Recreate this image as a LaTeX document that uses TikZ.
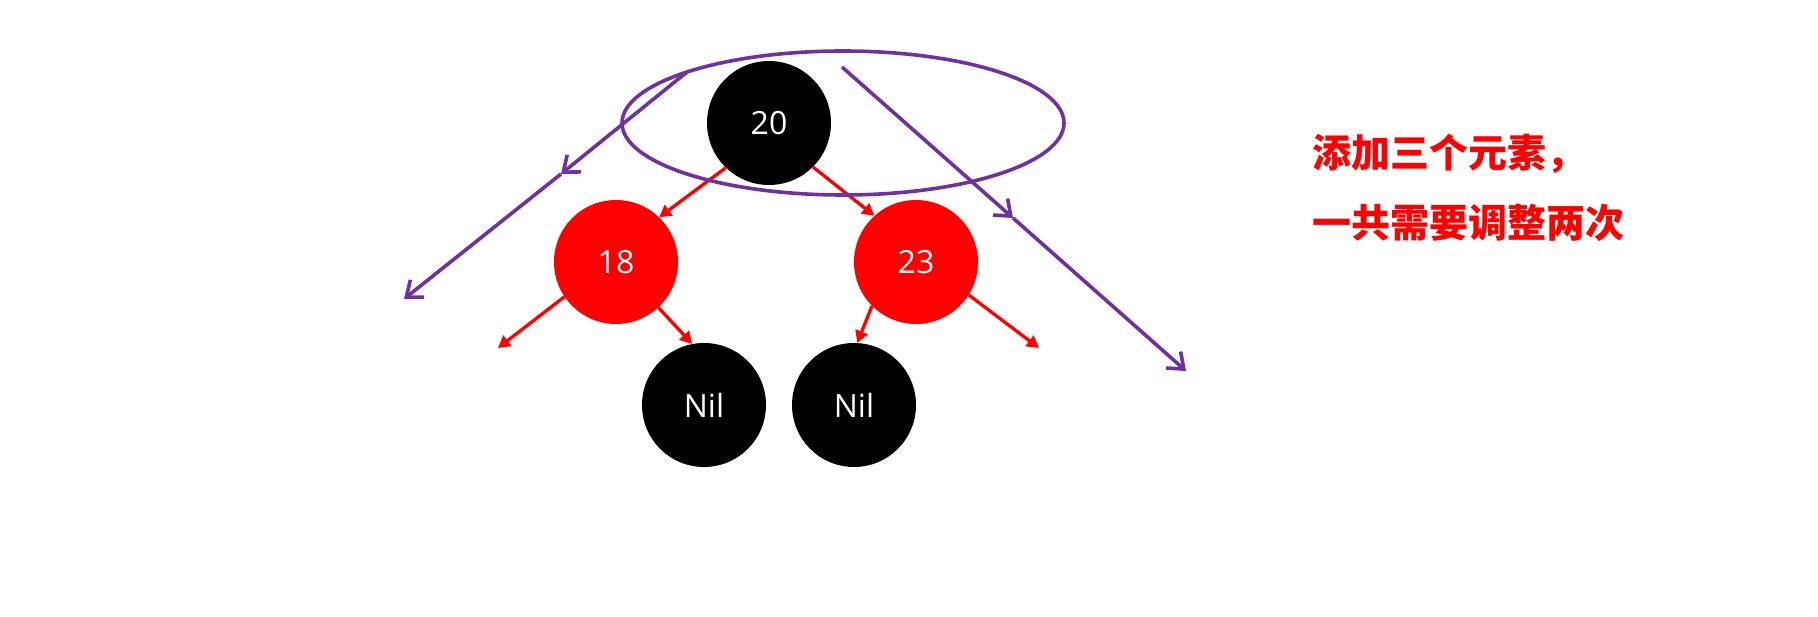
\documentclass[tikz,border=0pt]{standalone}
\usepackage{fontspec}
\setmainfont{Open Sans}
\newfontfamily\cjk{Noto Sans CJK SC}
\usetikzlibrary{arrows.meta,shapes.geometric}
\definecolor{purp}{HTML}{7030A0}
\definecolor{rd}{HTML}{FF0000}
\begin{document}
\begin{tikzpicture}[x=1pt,y=-1pt,
  rbnode/.style={circle,minimum size=124pt,inner sep=0pt,text=white,font=\fontsize{32}{36}\selectfont},
  blk/.style={rbnode,fill=black},
  rednode/.style={rbnode,fill=rd},
  redarrow/.style={draw=rd,line width=3.3pt,-{Triangle[length=12pt,width=13pt]}},
  purparrow/.style={draw=purp,line width=3.6pt,-{Straight Barb[length=14pt,width=22pt,line width=3.6pt]}},
  note/.style={anchor=west,text=rd,inner sep=0pt,font=\cjk\bfseries\fontsize{39}{44}\selectfont}]
\useasboundingbox (0,0) rectangle (1818,617);
\fill[white] (0,0) rectangle (1818,617);
% nodes
\node[blk] (n20) at (769,123) {20};
\node[rednode] (n18) at (616,262) {18};
\node[rednode] (n23) at (916,262) {23};
\node[blk] (nilL) at (704,405) {Nil};
\node[blk] (nilR) at (854,405) {Nil};
% red arrows
\coordinate (fL) at (498,348);
\coordinate (fR) at (1039,348);
\draw[redarrow] (n20.226) -- (n18.46);
\draw[redarrow] (n20.315) -- (n23.132);
\draw[redarrow] (n18.214) -- (fL);
\draw[redarrow] (n18.313) -- (nilL.101);
\draw[redarrow] (n23.225) -- (nilR.87);
\draw[redarrow] (n23.328) -- (fR);
% purple ellipse
\node[draw=purp,line width=3.6pt,ellipse,minimum width=442pt,minimum height=144pt,inner sep=0pt] (ell) at (843,123) {};
% purple arrows
\coordinate (pLs) at (687,72);
\coordinate (pLm) at (561,174);
\coordinate (pLe) at (404,299);
\coordinate (pRs) at (842,67);
\coordinate (pRm) at (1013,218);
\coordinate (pRe) at (1186,371);
\draw[purparrow] (pLs) -- (pLm);
\draw[purparrow] (pLm) -- (pLe);
\draw[purparrow] (pRs) -- (pRm);
\draw[purparrow] (pRm) -- (pRe);
% text
\node[note] (t1) at (1312,154) {添加三个元素，};
\node[note] (t2) at (1312,223) {一共需要调整两次};
\end{tikzpicture}
\end{document}
